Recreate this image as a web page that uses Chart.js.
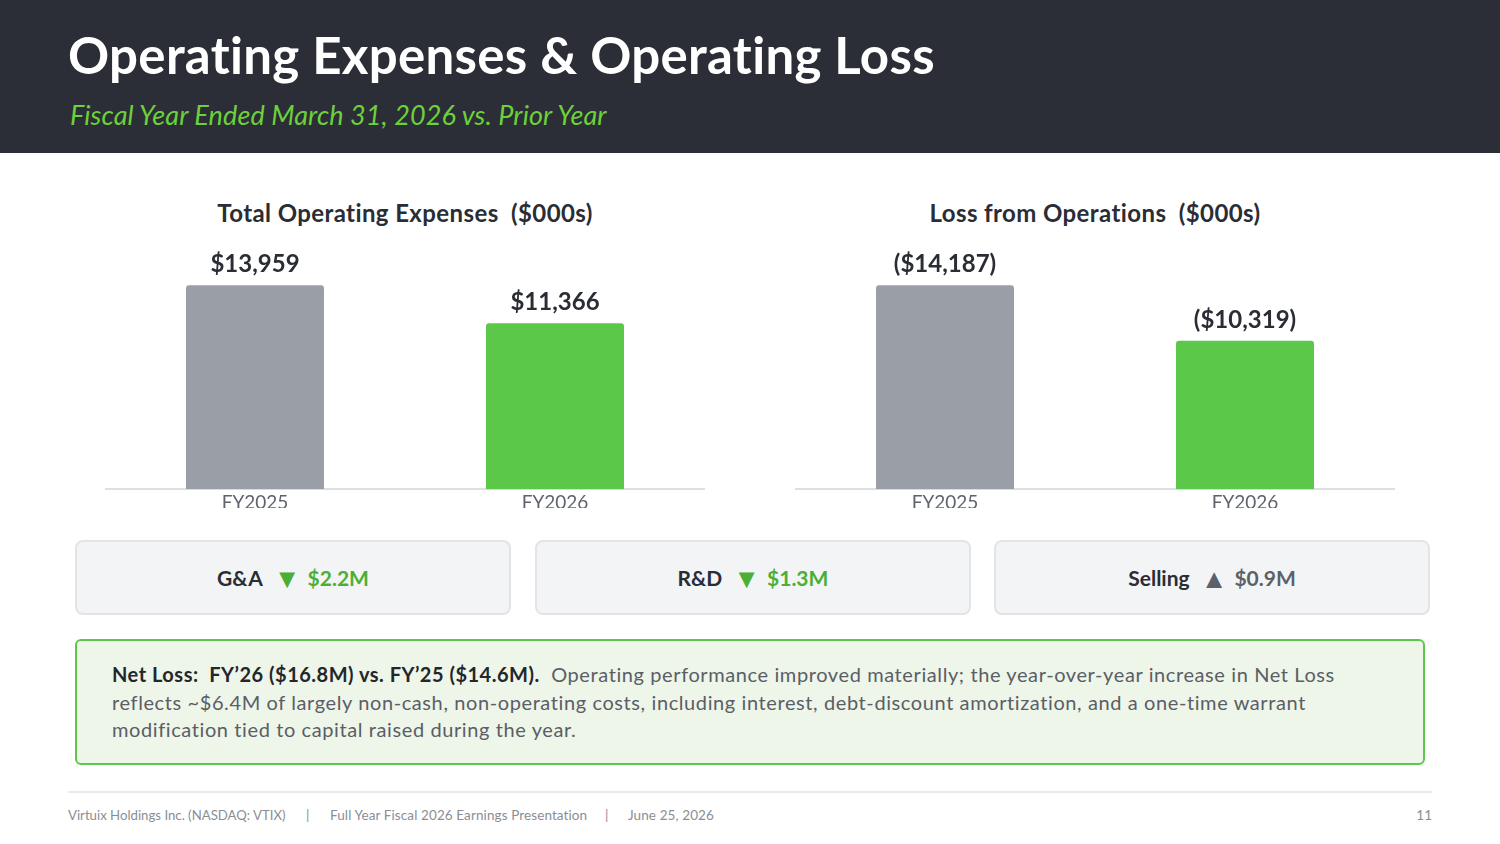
<!DOCTYPE html>
<html>
<head>
<meta charset="utf-8">
<script src="https://cdn.jsdelivr.net/npm/chart.js@4.4.1/dist/chart.umd.min.js"></script>
<style>
  html, body { margin: 0; padding: 0; }
  body { width: 1500px; height: 844px; position: relative; background: #ffffff; font-family: 'Lato', 'Open Sans', sans-serif; overflow: hidden; }
  .header { position: absolute; left: 0; top: 0; width: 1500px; height: 153px; background: #2b2e36; }
  .header h1 { position: absolute; left: 68px; top: 24px; margin: 0; color: #ffffff; font-size: 51px; font-weight: 700; letter-spacing: 0.3px; white-space: nowrap; }
  .header .sub { position: absolute; left: 70px; top: 98px; color: #6cd13a; font-size: 27px; font-style: italic; letter-spacing: 0.1px; white-space: nowrap; }
  .chart-title { position: absolute; top: 198px; width: 600px; text-align: center; font-size: 24px; font-weight: 700; color: #2a2d34; white-space: pre; letter-spacing: 0.4px; }
  .chart-box { position: absolute; top: 240px; width: 600px; height: 268px; }
  .pill { position: absolute; top: 540px; height: 71px; width: 432px; background: #f3f4f6; border: 2px solid #e2e4e8; border-radius: 8px; display: flex; align-items: center; justify-content: center; font-size: 21px; font-weight: 700; color: #2a2d34; }
  .pill .arr { margin: 0 7px 0 11px; font-size: 27px; line-height: 1; }
  .down { color: #4caf35; }
  .up { color: #5c6068; }
  .note { position: absolute; left: 75px; top: 639px; width: 1346px; height: 122px; background: #eef5e9; border: 2px solid #5cc84a; border-radius: 6px; }
  .note p { margin: 0; position: absolute; left: 35px; top: 20px; width: 1290px; font-size: 20px; line-height: 27.5px; color: #5a5e66; letter-spacing: 0.6px; white-space: nowrap; }
  .note b { color: #23262b; letter-spacing: 0.5px; }
  .footer-line { position: absolute; left: 68px; top: 791px; width: 1364px; height: 2px; background: #e8eaec; }
  .foot { position: absolute; top: 807px; font-size: 13.5px; color: #8a8e94; white-space: pre; letter-spacing: 0.1px; }
  .page { position: absolute; right: 68px; top: 807px; font-size: 13.5px; color: #8a8e94; }
</style>
</head>
<body>
<div class="header">
  <h1>Operating Expenses &amp; Operating Loss</h1>
  <div class="sub">Fiscal Year Ended March 31, 2026 vs. Prior Year</div>
</div>

<div class="chart-title" style="left:105px">Total Operating Expenses  ($000s)</div>
<div class="chart-title" style="left:795px">Loss from Operations  ($000s)</div>
<div class="chart-box" style="left:105px"><canvas id="opexChart"></canvas></div>
<div class="chart-box" style="left:795px"><canvas id="lossChart"></canvas></div>

<div class="pill" style="left:75px">G&amp;A<span class="arr down">▼</span><span class="down">$2.2M</span></div>
<div class="pill" style="left:535px">R&amp;D<span class="arr down">▼</span><span class="down">$1.3M</span></div>
<div class="pill" style="left:994px">Selling<span class="arr up">▲</span><span class="up">$0.9M</span></div>

<div class="note">
  <p><b>Net Loss:&nbsp; FY’26 ($16.8M) vs. FY’25 ($14.6M).</b>&nbsp; Operating performance improved materially; the year-over-year increase in Net Loss<br>reflects ~$6.4M of largely non-cash, non-operating costs, including interest, debt-discount amortization, and a one-time warrant<br>modification tied to capital raised during the year.</p>
</div>

<div class="footer-line"></div>
<div class="foot" style="left:68px; font-size:13.2px; letter-spacing:0">Virtuix Holdings Inc. (NASDAQ: VTIX)</div>
<div class="foot" style="left:306px">|</div>
<div class="foot" style="left:330px">Full Year Fiscal 2026 Earnings Presentation</div>
<div class="foot" style="left:605px">|</div>
<div class="foot" style="left:628px">June 25, 2026</div>
<div class="page">11</div>

<script>
  // --- data ---
  const years = ['FY2025', 'FY2026'];
  const opexValues = [13959, 11366];
  const opexLabels = ['$13,959', '$11,366'];
  const lossValues = [14187, 10319];
  const lossLabels = ['($14,187)', '($10,319)'];
  const barColors = ['#9a9fa7', '#5bc84a'];

  // draws the value text above each bar
  const valueLabels = {
    id: 'valueLabels',
    afterDatasetsDraw(chart, args, opts) {
      const ctx = chart.ctx;
      const meta = chart.getDatasetMeta(0);
      ctx.save();
      ctx.font = '700 24px Lato, "Open Sans", sans-serif';
      ctx.fillStyle = '#2a2d34';
      ctx.textAlign = 'center';
      ctx.textBaseline = 'bottom';
      meta.data.forEach((bar, i) => {
        ctx.fillText(opts.labels[i], bar.x, bar.y - 9);
      });
      ctx.restore();
    }
  };

  function makeChart(id, values, labels) {
    const ctx = document.getElementById(id).getContext('2d');
    return new Chart(ctx, {
      type: 'bar',
      data: {
        labels: years,
        datasets: [{
          data: values,
          backgroundColor: barColors,
          borderRadius: 3,
          borderSkipped: 'bottom',
          barPercentage: 0.46,
          categoryPercentage: 1
        }]
      },
      options: {
        responsive: true,
        maintainAspectRatio: false,
        animation: false,
        layout: { padding: 0 },
        plugins: {
          legend: { display: false },
          tooltip: { enabled: false },
          valueLabels: { labels: labels }
        },
        scales: {
          x: {
            grid: { display: false },
            border: { display: true, color: '#dcdfe3', width: 2 },
            ticks: { color: '#5f636b', font: { family: 'Lato, "Open Sans", sans-serif', size: 19 }, padding: -6 }
          },
          y: {
            display: false,
            min: 0,
            max: Math.max(...values) * 1.222
          }
        }
      },
      plugins: [valueLabels]
    });
  }

  makeChart('opexChart', opexValues, opexLabels);
  makeChart('lossChart', lossValues, lossLabels);
</script>
</body>
</html>
